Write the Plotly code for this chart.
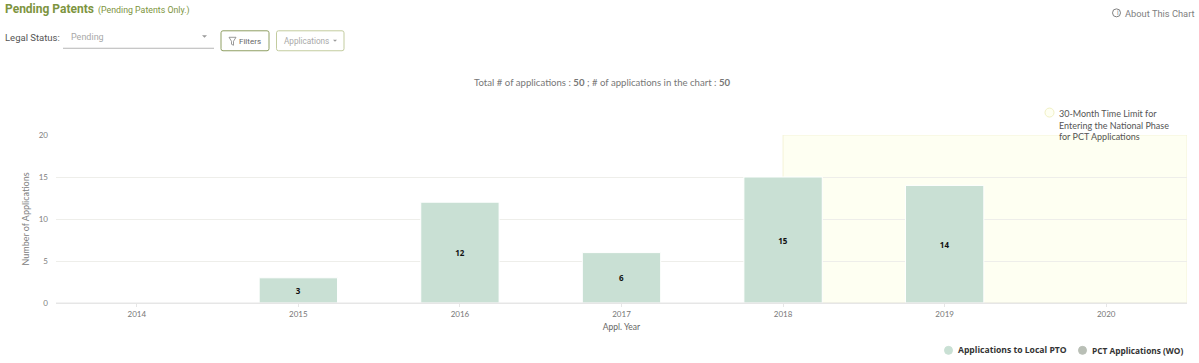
import plotly.graph_objects as go

years = [2014, 2015, 2016, 2017, 2018, 2019, 2020]
local_pto = [None, 3, 12, 6, 15, 14, None]
series_local = "Applications to Local PTO"
series_pct = "PCT Applications (WO)"
limit_start_year = 2018
y_ticks = [0, 5, 10, 15, 20]

W, H = 1199, 363
L, R, T, B = 56, 1187, 135, 303.5
FONT = "Lato"
UI = "Roboto"


def px(x):
    return (x - L) / (R - L)


def py(y):
    return (B - y) / (B - T)


def label(x, y, text, size=9, color="#6f6f6f", font=FONT, anchor="left", weight=None, **kw):
    f = dict(family=font, size=size, color=color)
    if weight:
        f["weight"] = weight
    return dict(xref="paper", yref="paper", x=px(x), y=py(y), text=text, showarrow=False,
                xanchor=anchor, yanchor="middle", align="left", font=f, **kw)


def box(x0, y0, x1, y1, line, fill="rgba(0,0,0,0)", width=1, kind="rect"):
    return dict(type=kind, xref="paper", yref="paper", x0=px(x0), x1=px(x1), y0=py(y0), y1=py(y1),
                line=dict(color=line, width=width), fillcolor=fill, layer="above")


def rounded(x0, y0, x1, y1, r, line):
    p = (f"M {px(x0 + r)},{py(y0)} L {px(x1 - r)},{py(y0)} Q {px(x1)},{py(y0)} {px(x1)},{py(y0 + r)} "
         f"L {px(x1)},{py(y1 - r)} Q {px(x1)},{py(y1)} {px(x1 - r)},{py(y1)} "
         f"L {px(x0 + r)},{py(y1)} Q {px(x0)},{py(y1)} {px(x0)},{py(y1 - r)} "
         f"L {px(x0)},{py(y0 + r)} Q {px(x0)},{py(y0)} {px(x0 + r)},{py(y0)} Z")
    return dict(type="path", xref="paper", yref="paper", path=p, line=dict(color=line, width=1), layer="above")


fig = go.Figure()
fig.add_trace(go.Bar(
    x=years, y=local_pto, width=0.485, name=series_local, showlegend=False,
    marker=dict(color="#c9e0d4", line=dict(color="#ffffff", width=1)),
    text=[v if v is not None else "" for v in local_pto], textposition="inside",
    insidetextanchor="middle", textangle=0, constraintext="none",
    textfont=dict(family="Open Sans", size=8, color="#111111", weight="bold"),
))

shapes = [
    dict(type="rect", xref="x", yref="y", x0=limit_start_year, x1=years[-1] + 0.5, y0=y_ticks[0], y1=y_ticks[-1],
         fillcolor="#fefff2", line=dict(color="#f4f3d8", width=1), layer="below"),
    dict(type="line", xref="paper", yref="y", x0=0, x1=1, y0=y_ticks[0], y1=y_ticks[0],
         line=dict(color="#e6e6e6", width=1), layer="above"),
    box(1045, 108, 1054, 117, "#f1f0c4", "#fefff2", kind="circle"),
    rounded(221, 30.5, 269, 50.5, 2, "#8f9f63"),
    rounded(276.5, 30.5, 344, 50.5, 2, "#c3cc9f"),
    box(1112.5, 8.5, 1120.5, 16.5, "#808080", kind="circle"),
    dict(type="line", xref="paper", yref="paper", x0=px(63), x1=px(214), y0=py(48), y1=py(48),
         line=dict(color="#b5b5b5", width=1), layer="above"),
    dict(type="path", xref="paper", yref="paper", layer="above",
         path=f"M {px(229)},{py(37)} L {px(236)},{py(37)} L {px(233.5)},{py(41)} L {px(233.5)},{py(45)} L {px(231.5)},{py(44)} L {px(231.5)},{py(41)} Z",
         line=dict(color="#808080", width=0.8)),
    dict(type="path", xref="paper", yref="paper", layer="above", line=dict(width=0), fillcolor="#9a9a9a",
         path=f"M {px(202)},{py(35)} L {px(207)},{py(35)} L {px(204.5)},{py(37.5)} Z"),
    dict(type="path", xref="paper", yref="paper", layer="above", line=dict(width=0), fillcolor="#9a9a9a",
         path=f"M {px(333)},{py(39.5)} L {px(337)},{py(39.5)} L {px(335)},{py(41.5)} Z"),
    box(944.5, 347, 952.5, 355, "#c9e0d4", "#c9e0d4", kind="circle"),
    box(1078.5, 347, 1086.5, 355, "#b9bfb6", "#b9bfb6", kind="circle"),
]

annotations = [
    label(3, 9, "<b>Pending Patents</b>", size=12, color="#7d9440", font=UI),
    label(96, 10, "(Pending Patents Only.)", size=8.8, color="#7d9440", font=UI),
    label(3, 37, "Legal Status:", size=9.5, color="#555555", font=UI),
    label(69, 36.5, "Pending", size=9, color="#a8a8a8", font=UI),
    label(237, 41, "Filters", size=8, color="#666666", font=UI),
    label(282, 41, "Applications", size=8.2, color="#a9a9a9", font=UI),
    label(1114.5, 12.5, "i", size=6.5, color="#808080", font=UI),
    label(1122.5, 13, "About This Chart", size=9.3, color="#808080", font=UI),
    label(472, 82, "Total # of applications : <b>50</b> ; # of applications in the chart : <b>50</b>", size=9.6, color="#777777"),
    label(1056.5, 125, "30-Month Time Limit for<br>Entering the National Phase<br>for PCT Applications", size=9, color="#555555"),
    label(955.5, 351, series_local, size=8.6, color="#333333", font="Open Sans", weight="bold"),
    label(1089.5, 351, series_pct, size=8.3, color="#333333", font="Open Sans", weight="bold"),
]

fig.update_layout(
    width=W, height=H, paper_bgcolor="#ffffff", plot_bgcolor="rgba(0,0,0,0)",
    margin=dict(l=L, r=W - R, t=T, b=H - B, pad=0, autoexpand=False),
    font=dict(family=FONT, size=8, color="#777777"),
    shapes=shapes, annotations=annotations,
    showlegend=False,
    bargap=0.5,
    xaxis=dict(range=[years[0] - 0.5, years[-1] + 0.5], tickmode="array", tickvals=years, ticks="outside",
               ticklen=3, tickcolor="#e6e6e6", showgrid=False, zeroline=False,
               showline=True, linecolor="#e6e6e6", linewidth=1,
               title=dict(text="Appl. Year", standoff=6, font=dict(size=8.5, color="#666666")),
               tickfont=dict(size=8, color="#777777")),
    yaxis=dict(range=[y_ticks[0], y_ticks[-1]], tickmode="array", tickvals=y_ticks, showgrid=True,
               gridcolor="#eeeeea", gridwidth=1, zeroline=False, showline=False, ticks="", ticklen=0,
               ticklabelstandoff=7,
               title=dict(text="Number of Applications", standoff=7, font=dict(size=9, color="#808080")),
               tickfont=dict(size=8, color="#808080"), automargin=False, layer="below traces"),
)

fig.write_html("out.html", config=dict(displayModeBar=False),
               post_script="document.body.style.margin='0';")
